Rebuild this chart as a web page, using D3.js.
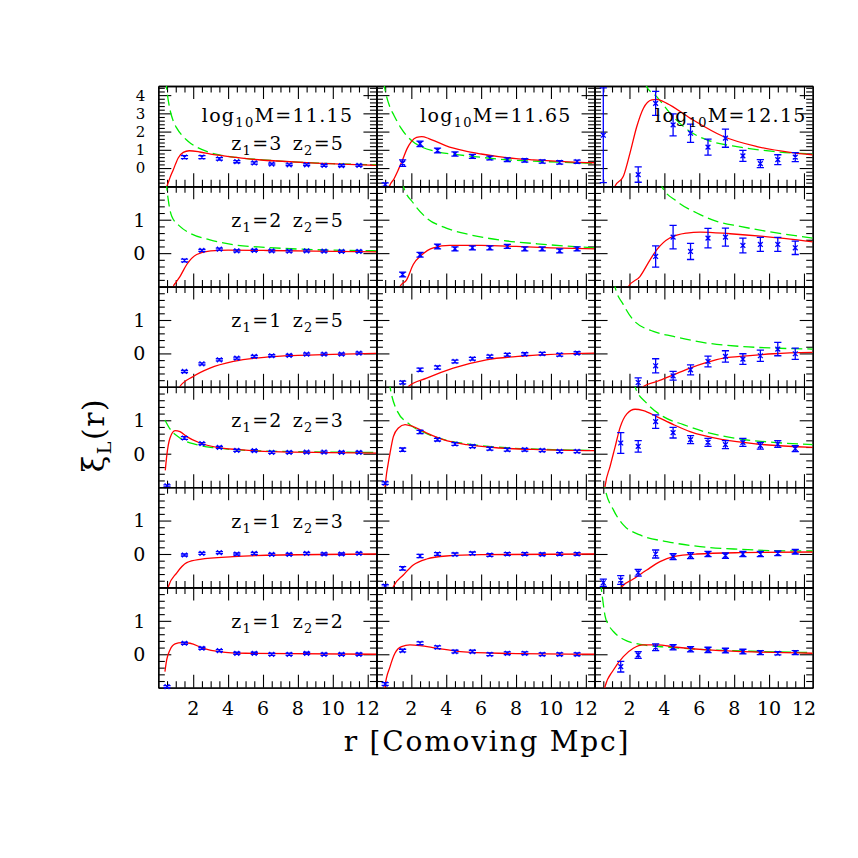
<!DOCTYPE html>
<html><head><meta charset="utf-8">
<script src="https://cdn.jsdelivr.net/npm/d3@7"></script>
<style>body{margin:0;background:#fff}svg{display:block}</style>
</head><body>
<svg id="chart" width="858" height="858"></svg>
<script>
// ---------------- data ----------------
const rBins = [0.5,1.5,2.5,3.5,4.5,5.5,6.5,7.5,8.5,9.5,10.5,11.5];
const massLabels = ["11.15","11.65","12.15"];
const zPairs = [["3","5"],["2","5"],["1","5"],["2","3"],["1","3"],["1","2"]];
const xTickLabels = [2,4,6,8,10,12];
const yTicksTop = [0,1,2,3,4];
const yTicksLower = [0,1];

// z1=3 z2=5
const xiZ35 = [
 [null,0.60,0.60,0.50,0.35,0.28,0.22,0.18,0.18,0.15,0.13,0.15],
 [-0.91,0.27,1.33,0.96,0.77,0.64,0.55,0.46,0.42,0.36,0.31,0.35],
 [1.80,null,-0.36,3.55,2.37,1.91,1.15,1.64,0.67,0.24,0.46,0.60]];
const errZ35 = [
 [0,0.08,0.08,0.07,0.06,0.06,0.05,0.05,0.05,0.05,0.05,0.05],
 [0.10,0.18,0.15,0.13,0.12,0.11,0.10,0.10,0.09,0.09,0.09,0.09],
 [2.60,0,0.42,0.66,0.60,0.50,0.44,0.50,0.30,0.22,0.27,0.25]];
const modelZ35 = [
 [[0.45,-1.1],[0.55,-0.85],[0.7,-0.45],[0.86,-0.09],[1.0,0.25],[1.14,0.55],[1.43,0.86],[1.77,0.95],[2.38,0.88],[3.0,0.76],[4.3,0.6],[5.5,0.47],[7.3,0.36],[9.0,0.27],[10.5,0.21],[12.5,0.15]],
 [[0.7,-1.2],[0.75,-1.0],[1.0,-0.6],[1.25,-0.1],[1.5,0.45],[1.75,1.05],[2.0,1.45],[2.3,1.68],[2.6,1.72],[3.0,1.62],[3.5,1.42],[4.0,1.22],[5.0,0.95],[6.0,0.77],[7.0,0.63],[8.0,0.52],[9.0,0.45],[10.0,0.39],[11.0,0.34],[12.5,0.29]],
 [[1.1,-1.2],[1.17,-1.0],[1.65,-0.45],[2.03,0.82],[2.42,2.28],[2.8,3.28],[3.28,3.74],[3.56,3.77],[4.14,3.55],[5.47,2.74],[7.38,1.73],[9.3,1.18],[11.2,0.86],[12.5,0.72]]];
const linearZ35 = [
 [[0.42,4.9],[0.5,4.2],[0.67,3.2],[0.85,2.6],[1.05,2.2],[1.4,1.75],[1.72,1.46],[2.2,1.15],[2.77,0.91],[3.5,0.72],[4.3,0.6],[6.0,0.45],[8.0,0.32],[10.0,0.24],[12.5,0.18]],
 [[0.4,4.8],[0.46,4.46],[0.75,3.4],[1.0,2.9],[1.4,2.2],[2.08,1.46],[2.46,1.22],[3.42,0.91],[4.5,0.75],[5.5,0.64],[7.4,0.46],[9.5,0.36],[12.5,0.26]],
 [[2.9,4.7],[2.99,4.46],[3.56,3.92],[4.33,3.0],[5.47,2.0],[6.43,1.55],[8.34,1.15],[10.25,0.91],[12.5,0.77]]];

// z1=2 z2=5
const xiZ25 = [
 [null,-0.22,0.08,0.12,0.07,0.08,0.07,0.06,0.07,0.06,0.05,0.05],
 [null,-0.64,-0.05,0.20,0.13,0.16,0.16,0.20,0.13,0.13,0.07,0.13],
 [null,null,null,-0.10,0.48,0.05,0.45,0.48,0.23,0.26,0.26,0.16]];
const errZ25 = [
 [0,0.04,0.03,0.03,0.03,0.03,0.03,0.03,0.03,0.03,0.03,0.03],
 [0,0.07,0.07,0.07,0.06,0.06,0.06,0.06,0.06,0.06,0.06,0.06],
 [0,0,0,0.32,0.35,0.24,0.29,0.27,0.22,0.21,0.21,0.20]];
const modelZ25 = [
 [[0.8,-1.2],[0.86,-1.0],[1.0,-0.88],[1.24,-0.7],[1.63,-0.34],[2.2,-0.04],[3.0,0.07],[4.0,0.09],[6.0,0.08],[9.0,0.06],[12.5,0.04]],
 [[1.3,-1.2],[1.35,-1.0],[1.73,-0.8],[2.11,-0.34],[2.6,-0.05],[3.26,0.16],[4.2,0.23],[6.0,0.23],[8.0,0.2],[10.0,0.16],[12.5,0.13]],
 [[1.9,-1.2],[1.94,-1.0],[2.6,-0.7],[3.18,-0.2],[3.56,0.1],[4.33,0.46],[5.28,0.6],[6.05,0.63],[7.77,0.58],[9.67,0.5],[12.5,0.34]]];
const linearZ25 = [
 [[0.45,2.2],[0.48,2.0],[0.57,1.6],[0.77,1.1],[1.24,0.8],[1.8,0.6],[2.96,0.4],[4.3,0.25],[6.2,0.17],[8.1,0.12],[12.5,0.07]],
 [[1.45,2.2],[1.54,2.0],[2.11,1.5],[2.88,1.05],[4.0,0.75],[5.36,0.55],[7.27,0.38],[9.2,0.28],[12.5,0.16]],
 [[3.75,2.2],[3.85,2.0],[4.71,1.55],[5.86,1.2],[7.0,0.95],[8.34,0.8],[10.25,0.62],[12.5,0.45]]];

// z1=1 z2=5
const xiZ15 = [
 [null,-0.54,-0.31,-0.19,-0.14,-0.09,-0.07,-0.06,-0.02,-0.02,-0.02,0.01],
 [null,-0.87,-0.49,-0.42,-0.24,-0.16,-0.09,-0.04,-0.02,-0.01,-0.04,0.01],
 [null,null,-0.87,-0.37,-0.67,-0.49,-0.24,-0.09,-0.17,-0.07,0.13,-0.01]];
const errZ15 = [
 [0,0.03,0.03,0.03,0.03,0.03,0.03,0.03,0.03,0.03,0.03,0.03],
 [0,0.04,0.05,0.05,0.04,0.04,0.04,0.04,0.04,0.04,0.04,0.04],
 [0,0,0.14,0.21,0.13,0.15,0.16,0.17,0.16,0.17,0.20,0.17]];
const modelZ15 = [
 [[1.15,-1.2],[1.24,-0.99],[2.0,-0.69],[2.96,-0.44],[4.3,-0.24],[6.2,-0.11],[8.0,-0.06],[10.0,-0.03],[12.5,0.0]],
 [[1.75,-1.2],[1.83,-0.99],[2.88,-0.74],[4.4,-0.44],[6.3,-0.19],[8.6,-0.07],[12.5,0.01]],
 [[2.7,-1.2],[2.8,-0.99],[3.56,-0.84],[4.52,-0.64],[5.47,-0.44],[6.43,-0.27],[7.38,-0.14],[8.34,-0.09],[10.25,-0.01],[12.5,0.03]]];
const linearZ15 = [
 null,
 null,
 [[1.1,2.2],[1.17,2.0],[1.65,1.46],[2.22,1.0],[3.37,0.66],[4.52,0.51],[6.43,0.31],[8.34,0.21],[10.25,0.16],[12.5,0.13]]];

// z1=2 z2=3
const xiZ23 = [
 [-0.96,0.47,0.30,0.19,0.10,0.09,0.04,0.04,0.05,0.05,0.04,0.04],
 [-0.88,0.12,0.65,0.42,0.29,0.22,0.15,0.12,0.12,0.10,0.07,0.07],
 [null,0.32,0.22,0.96,0.63,0.42,0.34,0.27,0.34,0.24,0.29,0.15]];
const errZ23 = [
 [0.03,0.04,0.03,0.03,0.03,0.03,0.03,0.03,0.03,0.03,0.03,0.03],
 [0.04,0.05,0.05,0.04,0.04,0.04,0.04,0.04,0.04,0.04,0.04,0.04],
 [0,0.31,0.17,0.20,0.16,0.12,0.12,0.12,0.12,0.10,0.10,0.09]];
const modelZ23 = [
 [[0.4,-0.5],[0.48,-0.08],[0.67,0.47],[0.96,0.69],[1.24,0.66],[1.63,0.51],[2.39,0.32],[3.35,0.19],[4.68,0.12],[6.5,0.06],[12.5,0.02]],
 [[0.45,-1.2],[0.49,-0.98],[0.78,0.02],[0.97,0.51],[1.26,0.77],[1.64,0.87],[2.11,0.81],[2.88,0.62],[3.83,0.42],[5.17,0.27],[7.1,0.17],[9.5,0.12],[12.5,0.09]],
 [[0.55,-1.2],[0.6,-0.98],[0.89,-0.38],[1.17,0.19],[1.46,0.78],[1.85,1.19],[2.32,1.33],[2.8,1.29],[3.56,1.11],[4.52,0.87],[5.47,0.66],[7.38,0.42],[9.3,0.29],[12.5,0.19]]];
const linearZ23 = [
 [[0.38,1.01],[0.67,0.74],[1.24,0.47],[2.2,0.27],[3.35,0.17],[5.0,0.1],[8.0,0.06],[12.5,0.04]],
 [[0.72,2.2],[0.78,2.0],[1.16,1.31],[1.92,0.87],[2.88,0.6],[4.03,0.4],[5.55,0.27],[7.66,0.17],[9.5,0.13],[12.5,0.1]],
 [[2.25,2.2],[2.32,2.0],[2.99,1.51],[3.94,1.11],[5.09,0.87],[6.43,0.64],[8.34,0.44],[10.25,0.34],[12.5,0.27]]];

// z1=1 z2=3
const xiZ13 = [
 [null,-0.03,0.02,0.04,0.00,0.02,-0.01,-0.01,0.02,0.00,0.00,0.02],
 [-0.96,-0.43,-0.06,0.00,-0.01,0.02,-0.03,0.00,0.00,-0.01,0.00,0.00],
 [-0.86,-0.78,-0.56,0.00,-0.08,-0.05,0.00,-0.05,0.00,0.00,0.02,0.07]];
const errZ13 = [
 [0,0.03,0.03,0.03,0.03,0.03,0.03,0.03,0.03,0.03,0.03,0.03],
 [0.04,0.05,0.05,0.04,0.04,0.04,0.04,0.04,0.04,0.04,0.04,0.04],
 [0.11,0.13,0.10,0.12,0.09,0.09,0.08,0.08,0.08,0.08,0.07,0.07]];
const modelZ13 = [
 [[0.5,-1.2],[0.57,-0.98],[1.05,-0.57],[1.63,-0.26],[2.39,-0.16],[4.3,-0.08],[7.0,-0.03],[12.5,0.0]],
 [[0.9,-1.2],[0.97,-0.98],[1.54,-0.63],[2.11,-0.33],[2.88,-0.15],[4.0,-0.06],[6.0,-0.02],[12.5,0.0]],
 [[1.5,-1.2],[1.56,-0.98],[2.22,-0.75],[2.99,-0.48],[3.75,-0.23],[4.52,-0.08],[5.86,0.0],[8.34,0.04],[12.5,0.06]]];
const linearZ13 = [
 null,
 null,
 [[0.5,2.3],[0.6,1.97],[1.08,1.32],[1.65,0.87],[2.6,0.57],[4.14,0.37],[6.05,0.22],[8.34,0.14],[10.25,0.1],[12.5,0.09]]];

// z1=1 z2=2
const xiZ12 = [
 [-0.97,0.33,0.18,0.11,0.03,0.03,0.00,0.00,0.03,0.00,0.00,0.00],
 [-0.89,0.11,0.33,0.21,0.08,0.08,0.00,0.03,0.03,0.00,0.00,0.00],
 [null,-0.37,-0.02,0.21,0.21,0.15,0.13,0.11,0.08,0.05,0.03,0.05]];
const errZ12 = [
 [0.03,0.03,0.03,0.03,0.03,0.03,0.03,0.03,0.03,0.03,0.03,0.03],
 [0.04,0.04,0.04,0.04,0.04,0.04,0.04,0.04,0.04,0.04,0.04,0.04],
 [0,0.16,0.10,0.10,0.08,0.08,0.08,0.07,0.07,0.06,0.05,0.06]];
const modelZ12 = [
 [[0.38,-0.52],[0.48,-0.17],[0.67,0.13],[0.96,0.31],[1.34,0.35],[1.82,0.33],[2.58,0.18],[3.5,0.08],[5.0,0.03],[12.5,0.0]],
 [[0.45,-1.2],[0.49,-0.97],[0.78,-0.37],[1.06,0.03],[1.44,0.23],[1.92,0.28],[2.49,0.26],[3.45,0.18],[4.8,0.08],[7.0,0.03],[12.5,0.0]],
 [[0.55,-1.2],[0.6,-0.97],[1.08,-0.47],[1.65,-0.07],[2.22,0.18],[2.8,0.28],[3.56,0.28],[4.71,0.21],[6.43,0.13],[8.5,0.08],[12.5,0.03]]];
const linearZ12 = [
 null,
 null,
 [[0.33,2.2],[0.45,1.7],[0.6,1.15],[0.8,0.88],[1.08,0.68],[1.65,0.45],[2.8,0.28],[4.0,0.22],[6.0,0.15],[9.0,0.09],[12.5,0.05]]];

// ---------------- layout ----------------
const svg = d3.select("#chart");
svg.append("rect").attr("width",858).attr("height",858).attr("fill","#fff");
const plotLeft = 158.3, plotRight = 812.7, plotTop = 86, plotBottom = 687.7;
const colW = (plotRight - plotLeft) / 3, rowH = (plotBottom - plotTop) / 6;
const FONT = "DejaVu Serif";
const BLUE = "#0000ff", RED = "#ff0000", GREEN = "#00ee00";

const rows = [
 {obs: xiZ35, err: errZ35, model: modelZ35, lin: linearZ35, yDom: [-1, 4.5], yTicks: yTicksTop, yFont: 15},
 {obs: xiZ25, err: errZ25, model: modelZ25, lin: linearZ25, yDom: [-1, 2], yTicks: yTicksLower, yFont: 19},
 {obs: xiZ15, err: errZ15, model: modelZ15, lin: linearZ15, yDom: [-1, 2], yTicks: yTicksLower, yFont: 19},
 {obs: xiZ23, err: errZ23, model: modelZ23, lin: linearZ23, yDom: [-1, 2], yTicks: yTicksLower, yFont: 19},
 {obs: xiZ13, err: errZ13, model: modelZ13, lin: linearZ13, yDom: [-1, 2], yTicks: yTicksLower, yFont: 19},
 {obs: xiZ12, err: errZ12, model: modelZ12, lin: linearZ12, yDom: [-1, 2], yTicks: yTicksLower, yFont: 19}
];

const xMinor = d3.range(0.5, 12.01, 0.5).filter(v => Math.abs(v/2 - Math.round(v/2)) > 1e-6);
const defs = svg.append("defs");
const styleAxis = sel => {
  sel.select("path.domain").attr("stroke", "#000").attr("stroke-width", 1.3);
  sel.selectAll(".tick line").attr("stroke", "#000").attr("stroke-width", 1.1);
  sel.selectAll(".tick text").remove();
};

rows.forEach((row, ri) => {
  const y0 = plotTop + ri * rowH, y1 = y0 + rowH;
  const y = d3.scaleLinear().domain(row.yDom).range([y1, y0]);
  const yMinor = d3.range(row.yDom[0] + 0.2, row.yDom[1] - 0.05, 0.2)
     .filter(v => Math.abs(v - Math.round(v)) > 1e-6);

  for (let ci = 0; ci < 3; ci++) {
    const x0 = plotLeft + ci * colW, x1 = x0 + colW;
    const x = d3.scaleLinear().domain([0, 12.5]).range([x0, x1]);
    const g = svg.append("g");
    const clipId = `clip-${ri}-${ci}`;
    defs.append("clipPath").attr("id", clipId).append("rect")
      .attr("x", x0).attr("y", y0).attr("width", colW).attr("height", rowH);

    // axes (ticks pointing inward)
    const axes = [
      [d3.axisBottom(x), `translate(0,${y1})`, xMinor, xTickLabels],
      [d3.axisTop(x), `translate(0,${y0})`, xMinor, xTickLabels],
      [d3.axisLeft(y), `translate(${x0},0)`, yMinor, row.yTicks],
      [d3.axisRight(y), `translate(${x1},0)`, yMinor, row.yTicks]
    ];
    axes.forEach(([ax, tr, minor, major]) => {
      g.append("g").attr("transform", tr)
        .call(ax.tickValues(minor).tickSize(-6.5).tickSizeOuter(0).tickFormat(""))
        .call(styleAxis);
      g.append("g").attr("transform", tr)
        .call(ax.tickValues(major).tickSize(-13).tickSizeOuter(0).tickFormat(""))
        .call(styleAxis);
    });

    // tick labels
    if (ri === 5) {
      g.selectAll("text.xl").data(xTickLabels).join("text")
        .attr("x", d => x(d)).attr("y", 715)
        .attr("text-anchor", "middle").attr("font-family", FONT).attr("font-size", 19)
        .text(d => d);
    }
    if (ci === 0) {
      g.selectAll("text.yl").data(row.yTicks).join("text")
        .attr("x", x0 - 13).attr("y", d => y(d)).attr("dy", "0.36em")
        .attr("text-anchor", "end").attr("font-family", FONT).attr("font-size", row.yFont)
        .text(d => d);
    }

    // curves
    const line = d3.line().x(d => x(d[0])).y(d => y(d[1])).curve(d3.curveMonotoneX);
    const cg = g.append("g").attr("clip-path", `url(#${clipId})`);
    if (row.lin[ci]) {
      cg.append("path").attr("d", line(row.lin[ci])).attr("fill", "none")
        .attr("stroke", GREEN).attr("stroke-width", 1.3).attr("stroke-dasharray", "11,5");
    }
    cg.append("path").attr("d", line(row.model[ci])).attr("fill", "none")
      .attr("stroke", RED).attr("stroke-width", 1.3);

    // data points with error bars
    const pts = rBins.map((r, i) => ({r, v: row.obs[ci][i], e: row.err[ci][i]})).filter(d => d.v !== null);
    const pg = g.append("g").attr("stroke", BLUE).attr("stroke-width", 1.3).attr("fill", "none");
    pts.forEach(d => {
      const px = x(d.r), py = y(d.v);
      const top = y(d.v + d.e), bot = y(d.v - d.e);
      const cw = 3.6, m = 2.4;
      pg.append("path").attr("d",
        `M${px},${top}V${bot}M${px - cw},${top}H${px + cw}M${px - cw},${bot}H${px + cw}` +
        `M${px - m},${py - m}L${px + m},${py + m}M${px - m},${py + m}L${px + m},${py - m}`);
    });

    // panel labels
    if (ri === 0) {
      const labelR = [2.49, 2.5, 3.47][ci];
      const t = g.append("text").attr("x", x(labelR)).attr("y", y0 + 35.7)
        .attr("font-family", FONT).attr("font-size", 19).attr("letter-spacing", "1.3px");
      t.append("tspan").text("log");
      t.append("tspan").attr("font-size", 13).attr("dy", 5).text("10");
      t.append("tspan").attr("dy", -5).text("M=" + massLabels[ci]);
    }
    if (ci === 0) {
      const z = zPairs[ri];
      const t = g.append("text").attr("x", x(4.18)).attr("y", y0 + (ri === 0 ? 64 : 40.5))
        .attr("font-family", FONT).attr("font-size", 19).attr("letter-spacing", "1.3px");
      t.append("tspan").text("z");
      t.append("tspan").attr("font-size", 13).attr("dy", 5).text("1");
      t.append("tspan").attr("dy", -5).text("=" + z[0]);
      t.append("tspan").attr("dx", 10).text("z");
      t.append("tspan").attr("font-size", 13).attr("dy", 5).text("2");
      t.append("tspan").attr("dy", -5).text("=" + z[1]);
    }
  }
});

// axis titles
svg.append("text").attr("x", 487).attr("y", 751).attr("text-anchor", "middle")
  .attr("font-family", FONT).attr("font-size", 28).attr("letter-spacing", "1.8px")
  .text("r [Comoving Mpc]");
const yt = svg.append("text").attr("transform", "translate(104,435) rotate(-90)")
  .attr("text-anchor", "middle").attr("font-family", FONT).attr("font-size", 30).attr("letter-spacing", "1.5px");
yt.append("tspan").text("ξ");
yt.append("tspan").attr("font-size", 19).attr("dy", 7).text("L");
yt.append("tspan").attr("dy", -7).text("(r)");
</script>
</body></html>
